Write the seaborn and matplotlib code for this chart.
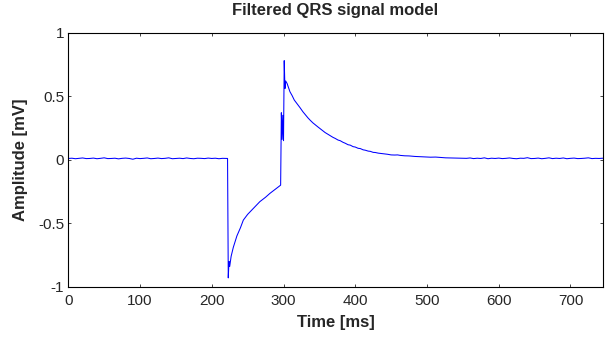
import seaborn as sns
import pandas as pd
import matplotlib.pyplot as plt
from matplotlib.ticker import FuncFormatter

# values
base_t = list(range(0, 225, 5))
base_v = [0.010, 0.012, 0.008, 0.011, 0.014, 0.009, 0.010, 0.013, 0.008, 0.011,
          0.015, 0.009, 0.010, 0.012, 0.007, 0.011, 0.013, 0.010, 0.004, 0.012,
          0.009, 0.011, 0.014, 0.008, 0.010, 0.013, 0.009, 0.011, 0.015, 0.008,
          0.010, 0.012, 0.009, 0.014, 0.010, 0.008, 0.012, 0.011, 0.009, 0.013,
          0.010, 0.012, 0.008, 0.011, 0.010]

q_t = [222, 223, 224, 225, 227, 230, 235, 240, 244, 250, 258, 267, 275, 281, 288, 295, 296]
q_v = [0.010, -0.93, -0.80, -0.84, -0.76, -0.69, -0.60, -0.535, -0.475, -0.43, -0.383,
       -0.33, -0.295, -0.265, -0.235, -0.205, -0.200]

rs_t = [297, 298, 299, 300, 301, 302, 303, 305, 309, 312, 315, 319, 323, 327, 330, 334, 337,
        341, 344, 348, 351, 355, 358, 362, 365, 369, 372, 376, 379, 383, 386, 390, 393,
        397, 400, 404, 407, 411, 414, 418, 421, 425, 428, 432, 435, 440, 445, 450, 455,
        459, 463, 469, 475, 483, 491, 498, 505, 512, 519, 526, 533, 540, 547]
rs_v = [0.37, 0.16, 0.35, 0.15, 0.78, 0.56, 0.62, 0.600, 0.535, 0.505, 0.470, 0.440,
        0.410, 0.378, 0.357, 0.330, 0.312, 0.290, 0.276, 0.258, 0.245, 0.228, 0.214,
        0.200, 0.190, 0.176, 0.168, 0.155, 0.150, 0.137, 0.130, 0.118, 0.115, 0.103,
        0.100, 0.090, 0.088, 0.078, 0.075, 0.068, 0.066, 0.058, 0.057, 0.052, 0.050,
        0.046, 0.043, 0.038, 0.037, 0.038, 0.034, 0.031, 0.030, 0.026, 0.024, 0.022,
        0.020, 0.021, 0.018, 0.015, 0.014, 0.013, 0.012]

tail_t = list(range(555, 750, 5))
tail_v = [0.011, 0.014, 0.009, 0.012, 0.010, 0.015, 0.008, 0.012, 0.010, 0.013,
          0.009, 0.011, 0.014, 0.010, 0.008, 0.012, 0.011, 0.016, 0.009, 0.010,
          0.013, 0.008, 0.011, 0.015, 0.009, 0.012, 0.010, 0.014, 0.008, 0.011,
          0.013, 0.009, 0.010, 0.012, 0.015, 0.009, 0.011, 0.010, 0.012]

df = pd.DataFrame({"Time": base_t + q_t + rs_t + tail_t,
                   "Amplitude": base_v + q_v + rs_v + tail_v})

sns.set_theme(style="ticks")
plt.rcParams["font.family"] = ["Liberation Sans", "DejaVu Sans"]
plt.rcParams["xtick.direction"] = "in"
plt.rcParams["ytick.direction"] = "in"

fig = plt.figure(figsize=(6.07, 3.37), dpi=100)
ax = fig.add_axes([0.1125, 0.149, 0.8805, 0.754])
sns.lineplot(data=df, x="Time", y="Amplitude", color="#0000ff", linewidth=0.75,
             sort=False, ax=ax)

ax.set_xlim(0, 745)
ax.set_ylim(-1, 1)
ax.set_xticks(range(0, 800, 100))
ax.set_yticks([-1, -0.5, 0, 0.5, 1])
ax.yaxis.set_major_formatter(FuncFormatter(lambda v, p: f"{v:g}"))
ax.tick_params(top=True, right=True, length=2.5, width=0.6, labelsize=11)
ax.tick_params(axis="x", pad=5)
ax.tick_params(axis="y", pad=3)
for s in ax.spines.values():
    s.set_linewidth(0.8)
    s.set_color("black")
ax.set_title("Filtered QRS signal model", fontsize=12, fontweight="bold", pad=13)
ax.set_xlabel("Time [ms]", fontsize=12, fontweight="bold", labelpad=5)
ax.set_ylabel("Amplitude [mV]", fontsize=12, fontweight="bold", labelpad=7)

plt.savefig("out.png", dpi=100)
